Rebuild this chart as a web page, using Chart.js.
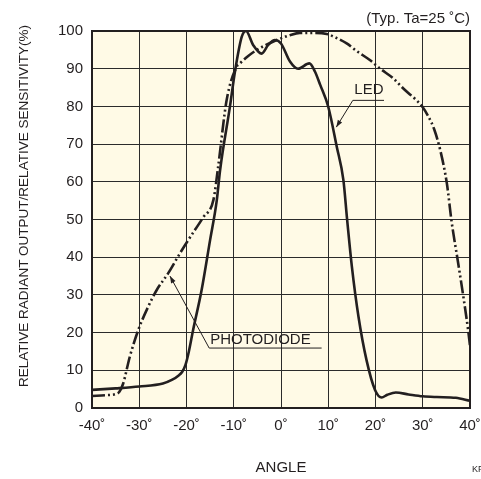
<!DOCTYPE html>
<html>
<head>
<meta charset="utf-8">
<script src="https://cdn.jsdelivr.net/npm/chart.js@4.4.0/dist/chart.umd.min.js"></script>
<style>
  html, body { margin: 0; padding: 0; background: #fff; }
  canvas { display: block; }
</style>
</head>
<body>
<canvas id="chart" width="481" height="479"></canvas>
<script>
// LED (solid line) - relative radiant output vs angle
const ledAngle = [-40, -35, -30, -25, -23, -21.8, -20.9, -20.2, -19.5, -18.6, -16.8, -15, -13.6, -12.9, -10.8, -9.7,
  -8.3, -7.4, -5.9, -4.1, -2.7, -1.3, 0, 1.9, 3.6, 6, 7.2, 8.3, 10, 11.8, 13.2,
  14, 15, 16.4, 18.1, 19.9, 21.3, 22.5, 24.3, 27, 30, 33, 37, 40];
const ledValue = [4.8, 5.2, 5.7, 6.5, 7.5, 8.5, 9.6, 11.5, 15, 20.7, 31.3, 44.6, 55, 63, 80, 89.6,
  98.5, 100, 96.3, 94, 96.3, 97.6, 96.7, 91.9, 90, 91.4, 89.2, 85.7, 79.9, 69.3, 60.5,
  49.9, 37.5, 24.2, 12.7, 4.8, 2.8, 3.5, 4.1, 3.6, 3.1, 2.9, 2.7, 1.9];

// Photodiode (dash-dot line) - relative sensitivity vs angle
const pdAngle = [-40, -37, -35, -34.2, -33.4, -32, -30.2, -28.1, -26.3, -23.9, -21.4, -19.6, -16.4, -14.3,
  -13.3, -11.5, -9.4, -8.7, -7, -5.1, -1.6, 1.9, 4, 7, 9.7, 11.5, 13.9, 16, 18.8, 21,
  23.8, 26, 28.7, 30, 31.2, 32.4, 33.7, 35.1, 36.1, 37.5, 38.6, 39.6, 40];
const pdValue = [3.2, 3.4, 3.7, 4.3, 6.5, 13.6, 20.7, 26.9, 31.3, 35.7, 41, 44.6, 50.7, 55.2,
  64, 81.7, 90.5, 91.4, 93.3, 95, 97.2, 98.9, 99.5, 99.5, 99.2, 98.3, 96.7, 94.7, 92.3, 90,
  87.4, 84.6, 81.6, 79.8, 77.3, 74, 68.4, 59.6, 49.5, 38.4, 29.5, 20.7, 16.5];

const xTicks = [-40, -30, -20, -10, 0, 10, 20, 30, 40];
const yTicks = [0, 10, 20, 30, 40, 50, 60, 70, 80, 90, 100];

const ink = '#231f20';
const fontFam = '"Liberation Sans", Arial, Helvetica, sans-serif';

function toPoints(xs, ys) {
  return xs.map((x, i) => ({ x: x, y: ys[i] }));
}

function arrowHead(ctx, fx, fy, tx, ty) {
  const ang = Math.atan2(ty - fy, tx - fx);
  const len = 7, half = 2.5;
  ctx.beginPath();
  ctx.moveTo(tx, ty);
  ctx.lineTo(tx - len * Math.cos(ang) + half * Math.sin(ang), ty - len * Math.sin(ang) - half * Math.cos(ang));
  ctx.lineTo(tx - len * Math.cos(ang) - half * Math.sin(ang), ty - len * Math.sin(ang) + half * Math.cos(ang));
  ctx.closePath();
  ctx.fill();
}

// cream plot background, frame, labels and notes
const paperPlugin = {
  id: 'paper',
  beforeDraw(chart) {
    const a = chart.chartArea, ctx = chart.ctx;
    ctx.save();
    ctx.fillStyle = '#fffae6';
    ctx.fillRect(a.left, a.top, a.right - a.left, a.bottom - a.top);
    ctx.restore();
  },
  afterDraw(chart) {
    const a = chart.chartArea, ctx = chart.ctx;
    const sx = chart.scales.x, sy = chart.scales.y;
    const px = v => sx.getPixelForValue(v), py = v => sy.getPixelForValue(v);
    ctx.save();
    ctx.strokeStyle = ink;
    ctx.lineWidth = 2;
    ctx.strokeRect(a.left, a.top, a.right - a.left, a.bottom - a.top);

    ctx.fillStyle = ink;
    ctx.textBaseline = 'middle';
    ctx.font = '15px ' + fontFam;
    ctx.textAlign = 'right';
    ctx.fillText('(Typ. Ta=25 ˚C)', a.right, 19);
    ctx.textAlign = 'center';
    ctx.fillText('ANGLE', (a.left + a.right) / 2, 468);

    // y axis title
    ctx.save();
    ctx.translate(24, 206);
    ctx.rotate(-Math.PI / 2);
    ctx.font = '13.5px ' + fontFam;
    ctx.fillText('RELATIVE RADIANT OUTPUT/RELATIVE SENSITIVITY(%)', 0, 0);
    ctx.restore();

    ctx.font = '9px ' + fontFam;
    ctx.textAlign = 'left';
    ctx.fillText('KP', 472, 470);

    // LED label
    ctx.font = '15px ' + fontFam;
    ctx.textAlign = 'center';
    ctx.fillText('LED', px(18.6), py(84.3));
    ctx.lineWidth = 1;
    ctx.beginPath();
    ctx.moveTo(px(15.2), py(81.6));
    ctx.lineTo(px(21.8), py(81.6));
    ctx.moveTo(px(15.2), py(81.6));
    ctx.lineTo(px(11.7), py(74.5));
    ctx.stroke();
    arrowHead(ctx, px(15.2), py(81.6), px(11.7), py(74.5));

    // PHOTODIODE label
    ctx.textAlign = 'left';
    ctx.fillText('PHOTODIODE', px(-15), py(18.2));
    ctx.beginPath();
    ctx.moveTo(px(-15.2), py(15.9));
    ctx.lineTo(px(8.6), py(15.9));
    ctx.moveTo(px(-15.2), py(15.9));
    ctx.lineTo(px(-23.5), py(35));
    ctx.stroke();
    arrowHead(ctx, px(-15.2), py(15.9), px(-23.5), py(35));
    ctx.restore();
  }
};

new Chart(document.getElementById('chart').getContext('2d'), {
  type: 'line',
  data: {
    datasets: [
      {
        label: 'LED',
        data: toPoints(ledAngle, ledValue),
        borderColor: ink,
        borderWidth: 2.6,
        pointRadius: 0,
        fill: false,
        cubicInterpolationMode: 'monotone'
      },
      {
        label: 'PHOTODIODE',
        data: toPoints(pdAngle, pdValue),
        borderColor: ink,
        borderWidth: 2.6,
        borderDash: [13, 3, 2, 3, 2, 3],
        pointRadius: 0,
        fill: false,
        cubicInterpolationMode: 'monotone'
      }
    ]
  },
  options: {
    responsive: false,
    animation: false,
    devicePixelRatio: 1,
    layout: { padding: { left: 0, right: 11, top: 31, bottom: 0 } },
    plugins: { legend: { display: false }, tooltip: { enabled: false } },
    scales: {
      x: {
        type: 'linear',
        min: -40,
        max: 40,
        afterBuildTicks: s => { s.ticks = xTicks.map(v => ({ value: v })); },
        afterFit: s => { s.height = 71; s.paddingLeft = 0; s.paddingRight = 0; },
        ticks: {
          color: ink,
          padding: 9,
          maxRotation: 0,
          font: { family: fontFam, size: 15 },
          callback: v => v + '˚'
        },
        grid: { color: '#2b2b2b', lineWidth: 1, drawTicks: false },
        border: { display: false }
      },
      y: {
        min: 0,
        max: 100,
        afterBuildTicks: s => { s.ticks = yTicks.map(v => ({ value: v })); },
        afterFit: s => { s.width = 92; s.paddingTop = 0; s.paddingBottom = 0; },
        ticks: {
          color: ink,
          padding: 9,
          font: { family: fontFam, size: 15 }
        },
        grid: { color: '#2b2b2b', lineWidth: 1, drawTicks: false },
        border: { display: false }
      }
    }
  },
  plugins: [paperPlugin]
});
</script>
</body>
</html>
